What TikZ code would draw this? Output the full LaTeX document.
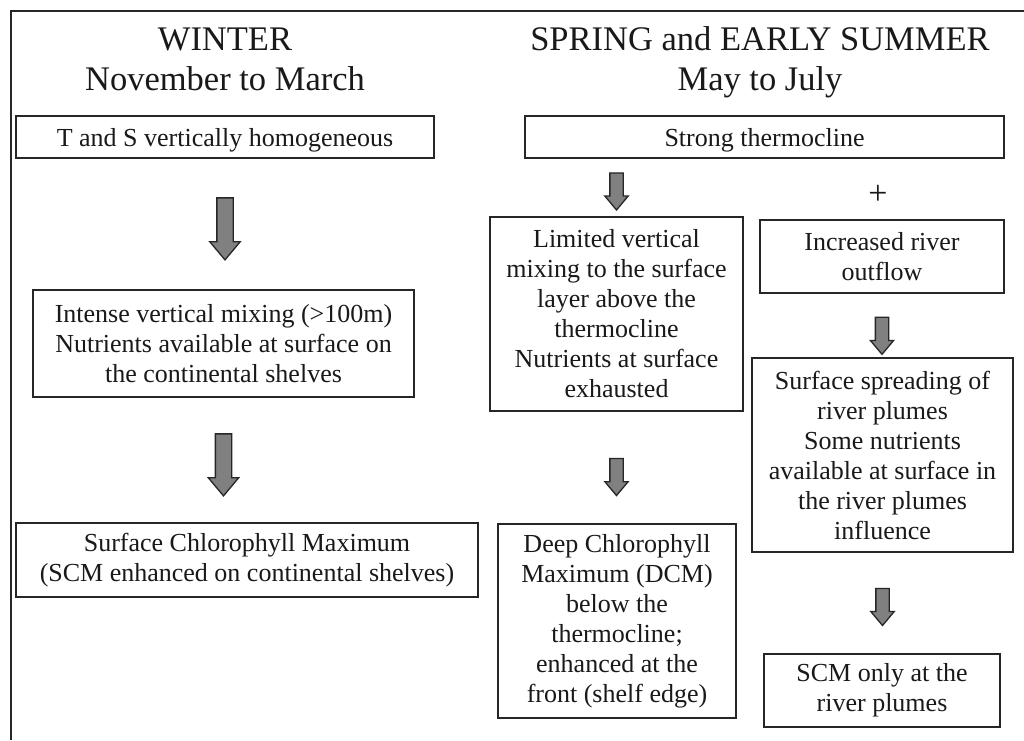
\documentclass[tikz,border=0pt]{standalone}
\usepackage{fontspec}
\setmainfont{Liberation Serif}
\usetikzlibrary{shapes.arrows}

\begin{document}
\begin{tikzpicture}[x=1pt,y=-1pt,
  every node/.style={font=\fontsize{26}{30}\selectfont,text=black!90},
  title/.style={font=\fontsize{34.5}{40}\selectfont,anchor=base},
  box/.style={draw=black!85,line width=1.6pt,align=center,inner sep=0pt},
  bigarrow/.style={single arrow,draw=black!85,fill=black!50,line width=1.3pt,rotate=-90,
    inner xsep=0pt,inner ysep=7.5pt,single arrow head extend=7pt,single arrow tip angle=80,
    minimum height=62pt,minimum width=29pt},
  smallarrow/.style={bigarrow,inner ysep=6pt,single arrow head extend=5pt,
    minimum height=37pt,minimum width=22pt}]
\useasboundingbox (0,0) rectangle (1024,740);
\fill[white] (0,0) rectangle (1024,740);
\draw[line width=2pt,black!85] (11,740) -- (11,11) -- (1024,11);
% titles
\node[title] (wtitle) at (225,50) {WINTER};
\node[title] (wmonths) at (225,90) {November to March};
\node[title] (stitle) at (760,50) {SPRING and EARLY SUMMER};
\node[title] (smonths) at (760,90) {May to July};
% winter column
\node[box,text depth=0pt,minimum width=418pt,minimum height=42pt] (tands) at (225,137) {T and S vertically homogeneous};
\node[box,minimum width=381pt,minimum height=107pt] (mixing) at (223.5,343.5) {Intense vertical mixing (>100m)\\Nutrients available at surface on\\the continental shelves};
\node[box,minimum width=462pt,minimum height=74pt] (scm) at (247,560) {Surface Chlorophyll Maximum\\(SCM enhanced on continental shelves)};
% spring column
\node[box,text depth=0pt,minimum width=479pt,minimum height=42pt] (strong) at (764.5,137) {Strong thermocline};
\node[box,minimum width=253pt,minimum height=194pt] (limited) at (616.5,314) {Limited vertical\\mixing to the surface\\layer above the\\thermocline\\Nutrients at surface\\exhausted};
\node[font=\fontsize{34}{40}\selectfont] (plus) at (878,195) {+};
\node[box,minimum width=244pt,minimum height=73pt] (river) at (882,256.5) {Increased river\\outflow};
\node[box,minimum width=261pt,minimum height=194pt] (spread) at (882.5,455) {Surface spreading of\\river plumes\\Some nutrients\\available at surface in\\the river plumes\\influence};
\node[box,minimum width=238pt,minimum height=194pt] (dcm) at (617,621) {Deep Chlorophyll\\Maximum (DCM)\\below the\\thermocline;\\enhanced at the\\front (shelf edge)};
\node[box,minimum width=236pt,minimum height=73pt] (scmriver) at (882,690.5) {SCM only at the\\river plumes};
% arrows
\path (tands.south) -- (tands.south |- mixing.north) node[midway,bigarrow] {};
\path (mixing.south) -- (mixing.south |- scm.north) node[midway,bigarrow] {};
\path (strong.south -| limited.north) -- (limited.north) node[midway,smallarrow] {};
\path (limited.south) -- (limited.south |- dcm.north) node[pos=.55,smallarrow] {};
\path (river.south) -- (river.south |- spread.north) node[pos=.6,smallarrow] {};
\path (spread.south) -- (spread.south |- scmriver.north) node[midway,smallarrow] {};
\end{tikzpicture}
\end{document}
